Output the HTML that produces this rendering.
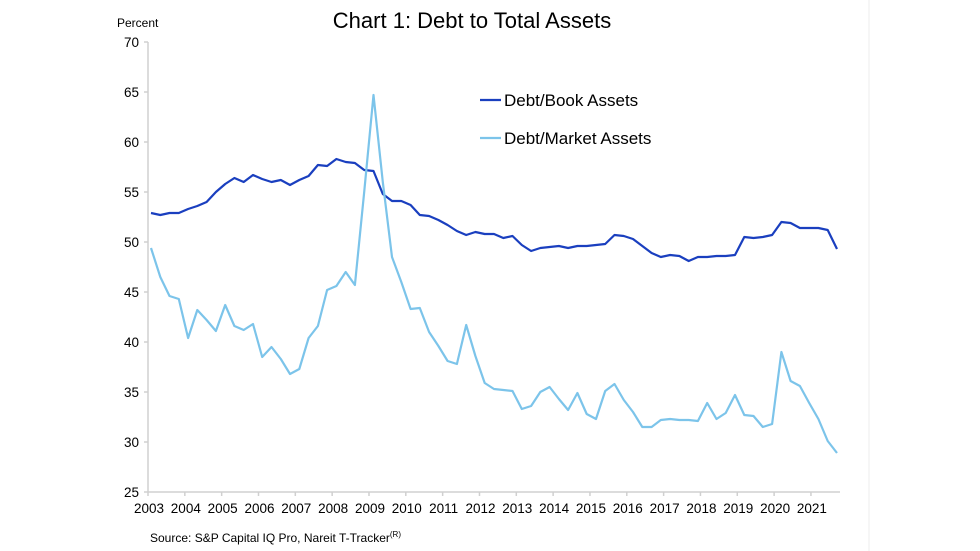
<!DOCTYPE html>
<html><head><meta charset="utf-8"><style>
html,body{margin:0;padding:0;background:#fff;}
svg{display:block;font-family:"Liberation Sans",Arial,sans-serif;}
</style></head><body>
<svg id="c" width="980" height="551" xmlns="http://www.w3.org/2000/svg">
<rect width="980" height="551" fill="#fff"/>
<line x1="869" y1="0" x2="869" y2="551" stroke="#eeeeee" stroke-width="1"/>
<text x="472" y="28" font-size="22" text-anchor="middle" fill="#000">Chart 1: Debt to Total Assets</text>
<text x="117" y="27" font-size="12" fill="#000">Percent</text>
<g id="ax" stroke="#d0d0d0" stroke-width="1.5" fill="none"></g>
<g id="yl" font-size="13.5" text-anchor="end" fill="#000"></g>
<g id="xl" font-size="13.5" text-anchor="middle" fill="#000"></g>
<polyline id="book" fill="none" stroke="#1a3fbf" stroke-width="2.2" stroke-linejoin="round"/>
<polyline id="mkt" fill="none" stroke="#7cc4ea" stroke-width="2.2" stroke-linejoin="round"/>
<line x1="480" y1="100" x2="501" y2="100" stroke="#1a3fbf" stroke-width="2.2"/>
<text x="504" y="106" font-size="17" fill="#000">Debt/Book Assets</text>
<line x1="480" y1="138" x2="501" y2="138" stroke="#7cc4ea" stroke-width="2.2"/>
<text x="504" y="144" font-size="17" fill="#000">Debt/Market Assets</text>
<text x="150" y="542" font-size="12" fill="#000">Source: S&amp;P Capital IQ Pro, Nareit T-Tracker<tspan font-size="8" dy="-5">(R)</tspan></text>
</svg>
<script>
var NS="http://www.w3.org/2000/svg";
function Y(v){return 42+(70-v)*10;}
function X(i){return 151+i*9.27;}
var ax=document.getElementById('ax'),yl=document.getElementById('yl'),xl=document.getElementById('xl');
function el(t,a,p,txt){var e=document.createElementNS(NS,t);for(var k in a)e.setAttribute(k,a[k]);if(txt)e.textContent=txt;p.appendChild(e);}
el('line',{x1:148,y1:42,x2:148,y2:492},ax);
el('line',{x1:148,y1:492,x2:840,y2:492},ax);
for(var v=25;v<=70;v+=5){el('line',{x1:144,y1:Y(v),x2:148,y2:Y(v)},ax);el('text',{x:139,y:Y(v)+5},yl,String(v));}
for(var y=0;y<=18;y++){var x=148+y*36.83;el('line',{x1:x,y1:492,x2:x,y2:496},ax);el('text',{x:x+1,y:513},xl,String(2003+y));}
var book=[52.9,52.7,52.9,52.9,53.3,53.6,54.0,55.0,55.8,56.4,56.0,56.7,56.3,56.0,56.2,55.7,56.2,56.6,57.7,57.6,58.3,58.0,57.9,57.2,57.1,54.8,54.1,54.1,53.7,52.7,52.6,52.2,51.7,51.1,50.7,51.0,50.8,50.8,50.4,50.6,49.7,49.1,49.4,49.5,49.6,49.4,49.6,49.6,49.7,49.8,50.7,50.6,50.3,49.6,48.9,48.5,48.7,48.6,48.1,48.5,48.5,48.6,48.6,48.7,50.5,50.4,50.5,50.7,52.0,51.9,51.4,51.4,51.4,51.2,49.3];
var mkt=[49.4,46.5,44.6,44.3,40.4,43.2,42.2,41.1,43.7,41.6,41.2,41.8,38.5,39.5,38.3,36.8,37.3,40.4,41.6,45.2,45.6,47.0,45.7,55,64.7,56,48.5,46,43.3,43.4,41,39.6,38.1,37.8,41.7,38.6,35.9,35.3,35.2,35.1,33.3,33.6,35,35.5,34.3,33.2,34.9,32.8,32.3,35.1,35.8,34.2,33,31.5,31.5,32.2,32.3,32.2,32.2,32.1,33.9,32.3,32.9,34.7,32.7,32.6,31.5,31.8,39,36.1,35.6,33.9,32.3,30.1,28.9];
function pts(a){return a.map(function(v,i){return X(i).toFixed(1)+','+Y(v).toFixed(1);}).join(' ');}
document.getElementById('book').setAttribute('points',pts(book));
document.getElementById('mkt').setAttribute('points',pts(mkt));
</script>
</body></html>
